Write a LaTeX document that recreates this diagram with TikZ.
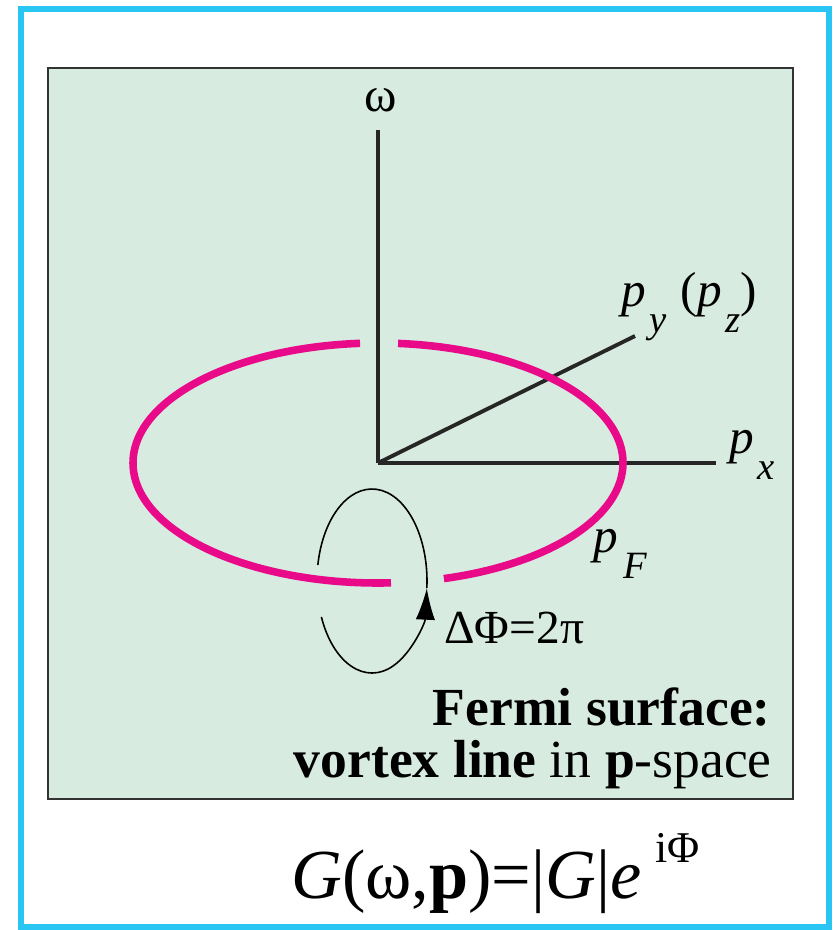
\documentclass[tikz,border=0pt]{standalone}
\usepackage{fontspec}
\setmainfont{Liberation Serif}
\usetikzlibrary{arrows.meta}
\definecolor{framecyan}{RGB}{41,197,243}
\definecolor{boxgreen}{RGB}{215,235,225}
\definecolor{fermipink}{RGB}{233,10,138}
\newcommand{\lowsub}[1]{\raisebox{-15pt}{\fontsize{22}{24}\selectfont\textit{#1}}}

\begin{document}
\begin{tikzpicture}[x=0.02cm, y=-0.02cm,
    axis/.style={line width=2.2pt, black!85},
    fermi/.style={line width=4.3pt, fermipink},
    windline/.style={line width=0.9pt, black},
    lbl/.style={inner sep=0pt, font=\fontsize{28}{30}\selectfont}]
    \useasboundingbox (0,0) rectangle (834,930);
    % frame and panel
    \draw[framecyan, line width=3.4pt] (21,9) rectangle (829,927);
    \draw[fill=boxgreen, draw=black!80, line width=1pt] (48,68) rectangle (793,799);

    % axes
    \coordinate (O) at (378,463);
    \coordinate (wend) at (378,130);
    \coordinate (xend) at (716,463);
    \coordinate (yend) at (635,336);
    \draw[axis] (O) -- (wend);
    \draw[axis] (O) -- (xend);
    \draw[axis] (O) -- (yend);

    \node[lbl, anchor=base] (wlab) at (381,111) {ω};
    \node[lbl, anchor=base west] (pylab) at (621,306) {\textit{p}\hspace{2pt}\lowsub{y}\hspace{8pt}(\textit{p}\hspace{2pt}\lowsub{z})};
    \node[lbl, anchor=base west] (pxlab) at (729,453) {\textit{p}\hspace{2pt}\lowsub{x}};

    % Fermi surface with its two breaks
    \coordinate (fc) at (378,463);
    \draw[fermi] ([shift={(86.96:245 and 120)}]fc) arc[start angle=86.96, end angle=265.8, x radius=245, y radius=120];
    \draw[fermi] ([shift={(274.7:245 and 120)}]fc) arc[start angle=274.7, end angle=434.4, x radius=245, y radius=120];
    \node[lbl, anchor=base west] (pflab) at (593,552) {\textit{p}\hspace{3pt}\lowsub{F}};

    % winding loop
    \coordinate (lc) at (372,581);
    \draw[windline, -{Latex[length=18pt, width=11pt]}] ([shift={(157:55 and 92)}]lc) arc[start angle=157, end angle=4.4, x radius=55, y radius=92];
    \draw[windline] ([shift={(4.4:55 and 92)}]lc) arc[start angle=4.4, end angle=-170, x radius=55, y radius=92];
    \node[anchor=base west, inner sep=0pt, font=\fontsize{27}{29}\selectfont] (dphi) at (444,643) {ΔΦ=2π};

    % captions
    \node[anchor=base east, inner sep=0pt, font=\fontsize{30.5}{32}\selectfont] (cap1) at (771,725) {\textbf{Fermi surface:}};
    \node[anchor=base east, inner sep=0pt, font=\fontsize{30.5}{32}\selectfont] (cap2) at (772,777) {\textbf{vortex line} in \textbf{p}-space};
    \node[anchor=base west, inner sep=0pt, font=\fontsize{40}{44}\selectfont] (green) at (291,898) {\textit{G}(ω,\textbf{p})=|\textit{G}|\textit{e}\hspace{8pt}\raisebox{20pt}{\fontsize{25}{27}\selectfont iΦ}};
\end{tikzpicture}
\end{document}
